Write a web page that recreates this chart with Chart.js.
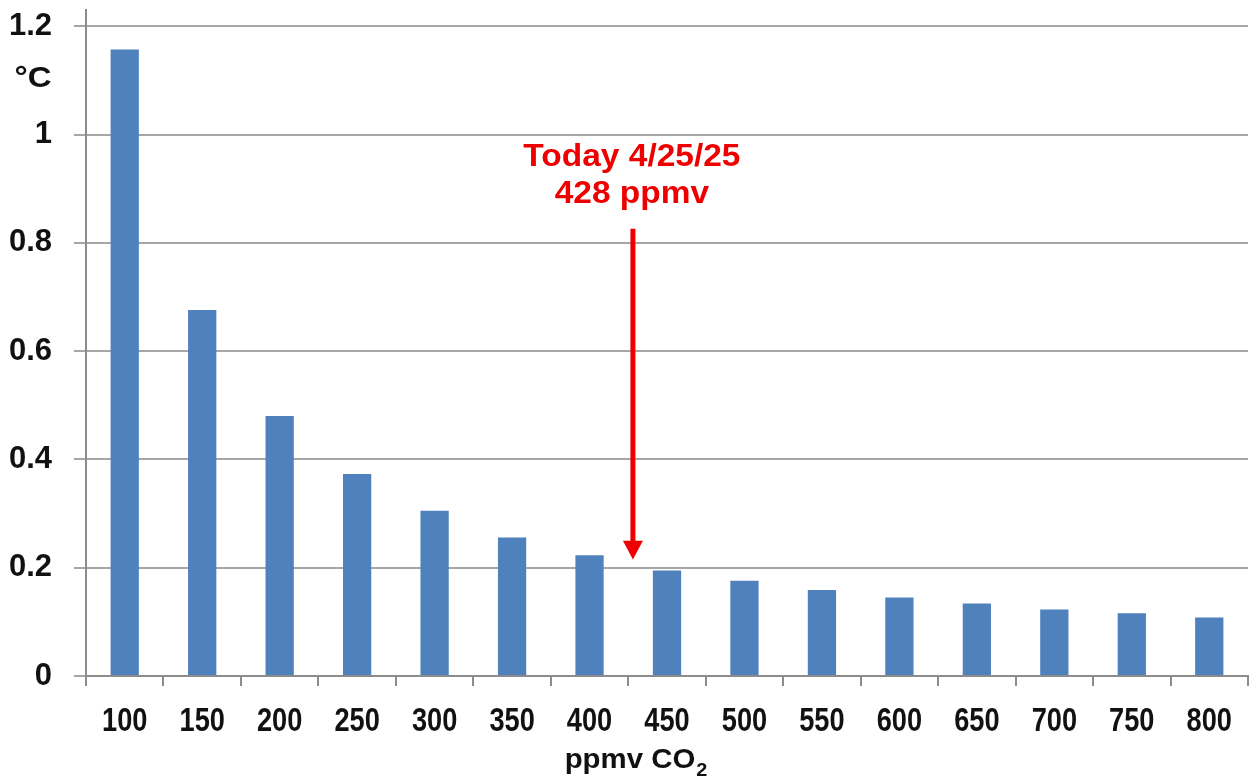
<!DOCTYPE html>
<html>
<head>
<meta charset="utf-8">
<script src="https://cdn.jsdelivr.net/npm/chart.js@4.4.1/dist/chart.umd.min.js"></script>
<style>
  html, body { margin: 0; padding: 0; background: #ffffff; }
  #wrap { width: 1250px; height: 778px; position: relative; }
</style>
</head>
<body>
<div id="wrap"><canvas id="c" width="1250" height="778"></canvas></div>
<script>
// ---- data ----
const categories = ['100','150','200','250','300','350','400','450','500','550','600','650','700','750','800'];
const warming = [1.157, 0.676, 0.480, 0.373, 0.305, 0.256, 0.223, 0.195, 0.176, 0.159, 0.145, 0.134, 0.123, 0.116, 0.108];
const yTickValues = [0, 0.2, 0.4, 0.6, 0.8, 1, 1.2];
const yTickLabels = ['0', '0.2', '0.4', '0.6', '0.8', '1', '1.2'];
const yUnit = '°C';
const xTitleMain = 'ppmv CO';
const xTitleSub = '2';
const todayLines = ['Today 4/25/25', '428 ppmv'];
const todayPpmv = 428;
const ppmvStart = 100, ppmvStep = 50;

const FONT = "'Liberation Sans', Arial, Helvetica, sans-serif";

function scaledText(ctx, text, x, y, size, k, align) {
  ctx.save();
  ctx.font = 'bold ' + size + 'px ' + FONT;
  const w = ctx.measureText(text).width * k;
  let x0 = x;
  if (align === 'center') x0 = x - w / 2;
  else if (align === 'right') x0 = x - w;
  ctx.translate(x0, y);
  ctx.scale(k, 1);
  ctx.textAlign = 'left';
  ctx.textBaseline = 'alphabetic';
  ctx.fillText(text, 0, 0);
  ctx.restore();
  return w;
}

const overlay = {
  id: 'overlay',
  afterDraw(chart) {
    const ctx = chart.ctx;
    const xs = chart.scales.x, ys = chart.scales.y;
    ctx.save();
    ctx.fillStyle = '#111111';

    // x tick labels (narrow bold)
    xs.ticks.forEach((t, i) => {
      scaledText(ctx, xs.getLabelForValue(t.value), xs.getPixelForTick(i), 731, 34, 0.8, 'center');
    });

    // y unit label
    scaledText(ctx, yUnit, 33, 87, 30, 1.1, 'center');

    // x axis title with subscript
    ctx.font = 'bold 28px ' + FONT;
    const mainW = ctx.measureText(xTitleMain).width * 1.05;
    ctx.font = 'bold 19px ' + FONT;
    const subW = ctx.measureText(xTitleSub).width * 1.05;
    const cx = xs.getPixelForValue(6.6);
    const left = cx - (mainW + subW + 1) / 2;
    scaledText(ctx, xTitleMain, left, 768, 28, 1.05, 'left');
    scaledText(ctx, xTitleSub, left + mainW + 1, 776, 19, 1.05, 'left');

    // annotation
    const idx = (todayPpmv - ppmvStart) / ppmvStep;
    const ax = xs.getPixelForValue(idx);
    ctx.fillStyle = '#ee0000';
    ctx.strokeStyle = '#ee0000';
    scaledText(ctx, todayLines[0], ax - 1, ys.getPixelForValue(0.941), 31, 1.08, 'center');
    scaledText(ctx, todayLines[1], ax - 1, ys.getPixelForValue(0.874), 31, 1.08, 'center');
    const yTop = ys.getPixelForValue(0.826);
    const yHead = ys.getPixelForValue(0.250);
    const yTip = ys.getPixelForValue(0.215);
    ctx.lineWidth = 5;
    ctx.beginPath();
    ctx.moveTo(ax, yTop);
    ctx.lineTo(ax, yHead + 2);
    ctx.stroke();
    ctx.beginPath();
    ctx.moveTo(ax - 10, yHead);
    ctx.lineTo(ax + 10, yHead);
    ctx.lineTo(ax, yTip);
    ctx.closePath();
    ctx.fill();
    ctx.restore();
  }
};

new Chart(document.getElementById('c'), {
  type: 'bar',
  data: {
    labels: categories,
    datasets: [{
      data: warming,
      backgroundColor: '#4f81bd',
      borderWidth: 0,
      categoryPercentage: 1,
      barPercentage: 0.365
    }]
  },
  options: {
    responsive: false,
    animation: false,
    devicePixelRatio: 1,
    layout: { padding: { top: 10, right: 2, left: 0, bottom: 0 } },
    plugins: { legend: { display: false }, tooltip: { enabled: false } },
    scales: {
      x: {
        grid: { offset: true, drawOnChartArea: false, drawTicks: true, tickLength: 10, color: '#8c8c8c', lineWidth: 2 },
        border: { display: true, color: '#8c8c8c', width: 2 },
        ticks: { display: false, autoSkip: false, maxRotation: 0 },
        afterFit(scale) { scale.height = 102; scale.paddingLeft = 0; scale.paddingRight = 0; }
      },
      y: {
        min: 0,
        max: 1.23,
        afterBuildTicks(scale) {
          scale.ticks = yTickValues.map(v => ({ value: v }));
        },
        ticks: {
          color: '#111111',
          font: { family: FONT, size: 31, weight: 'bold' },
          padding: 22,
          callback: (v) => {
            const i = yTickValues.findIndex(t => Math.abs(t - v) < 1e-9);
            return i >= 0 ? yTickLabels[i] : '';
          }
        },
        grid: { color: '#a6a6a6', lineWidth: 2, tickLength: 12 },
        border: { display: true, color: '#8c8c8c', width: 2 },
        afterFit(scale) { scale.width = 86; scale.paddingTop = 0; scale.paddingBottom = 0; }
      }
    }
  },
  plugins: [overlay]
});
</script>
</body>
</html>
